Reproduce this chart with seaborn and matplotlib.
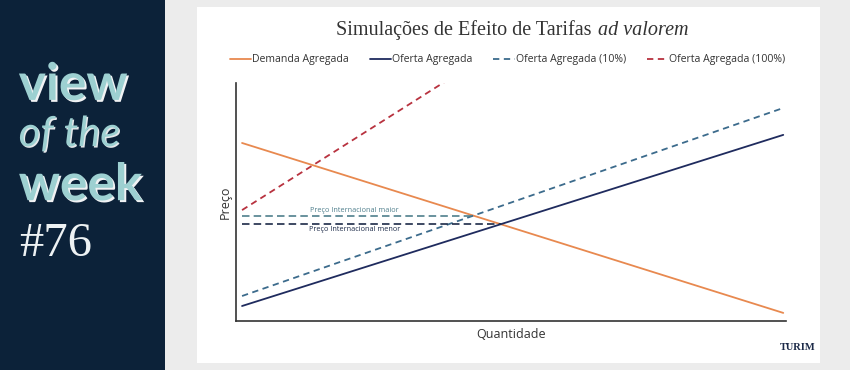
import matplotlib
matplotlib.use("Agg")
import matplotlib.pyplot as plt
import matplotlib.patheffects as pe
from matplotlib.patches import Rectangle
import numpy as np
import pandas as pd
import seaborn as sns

# data (quantity 0-100, price 0-100)
q_line = [1.1, 99.5]
demanda = [74.8, 3.4]
oferta = [6.3, 78.2]
oferta_10 = [10.5, 89.5]
q_100 = [1.1, 45.0]
oferta_100 = [46.6, 110.8]

q_maior = [1.1, 43.3]
preco_maior = [44.1, 44.1]
q_menor = [1.1, 48.2]
preco_menor = [40.8, 40.8]

SERIES = ["Demanda Agregada", "Oferta Agregada", "Oferta Agregada (10%)", "Oferta Agregada (100%)"]
COLORS = ["#e8894f", "#1f2b5e", "#3c6b8c", "#b8323f"]

NAVY = "#0c2239"
TEAL = "#9dd0d1"
DASH = (0, (3.5, 2.5))

sns.set_theme(style="white")
plt.rcParams["font.family"] = ["Open Sans", "DejaVu Sans"]

fig = plt.figure(figsize=(8.5, 3.7), dpi=100)
fig.patch.set_facecolor("#ececec")
fig.patches.append(Rectangle((0, 0), 165 / 850, 1, transform=fig.transFigure,
                             facecolor=NAVY, edgecolor="none", zorder=-10))
fig.patches.append(Rectangle((197 / 850, 7 / 370), 623 / 850, 356 / 370,
                             transform=fig.transFigure, facecolor="white",
                             edgecolor="none", zorder=-10))

# left panel
shadow = [pe.withSimplePatchShadow(offset=(1.4, -1.4), shadow_rgbFace="white", alpha=0.95)]
fig.text(0.022, 0.730, "view", family=["Lato", "DejaVu Sans"], weight="bold",
         size=37, color=TEAL, va="baseline", path_effects=shadow)
fig.text(0.022, 0.605, "of the", family=["Lato", "DejaVu Sans"], style="italic",
         weight="normal", size=30, color=TEAL, va="baseline",
         path_effects=[pe.withSimplePatchShadow(offset=(1.0, -1.0), shadow_rgbFace="white", alpha=0.9)])
fig.text(0.022, 0.459, "week", family=["Lato", "DejaVu Sans"], weight="bold",
         size=37, color=TEAL, va="baseline", path_effects=shadow)
fig.text(0.022, 0.308, "#76", family=["Liberation Serif", "DejaVu Serif"],
         size=35, color="#eef2f3", va="baseline")

# chart
ax = fig.add_axes([236 / 850, 49 / 370, 550 / 850, 238 / 370])
ax.set_facecolor("white")

LW = 1.3
sns.lineplot(x=q_line, y=demanda, ax=ax, color=COLORS[0], lw=LW, label=SERIES[0])
sns.lineplot(x=q_line, y=oferta, ax=ax, color=COLORS[1], lw=LW, label=SERIES[1])
sns.lineplot(x=q_line, y=oferta_10, ax=ax, color=COLORS[2], lw=LW,
             linestyle=DASH, label=SERIES[2])
sns.lineplot(x=q_100, y=oferta_100, ax=ax, color=COLORS[3], lw=LW,
             linestyle=DASH, label=SERIES[3])
sns.lineplot(x=q_maior, y=preco_maior, ax=ax, color="#4f7f8c", lw=1.2,
             linestyle=(0, (4.5, 2.5)), legend=False)
sns.lineplot(x=q_menor, y=preco_menor, ax=ax, color="#1c2a48", lw=1.2,
             linestyle=(0, (4.5, 2.5)), legend=False)

ax.text(21.6, 44.9, "Preço Internacional maior", color="#4f7f8c", size=5.2,
        ha="center", va="bottom")
ax.text(21.6, 40.0, "Preço Internacional menor", color="#1c2a48", size=5.2,
        ha="center", va="top")

ax.set_xlim(0, 100)
ax.set_ylim(0, 100)
ax.set_xticks([])
ax.set_yticks([])
for side in ("top", "right"):
    ax.spines[side].set_visible(False)
for side in ("left", "bottom"):
    ax.spines[side].set_color("#333333")
    ax.spines[side].set_linewidth(1.2)
ax.set_xlabel("Quantidade", size=9, color="#333333", labelpad=5)
ax.set_ylabel("Preço", size=9, color="#333333", labelpad=3)

handles, labels = ax.get_legend_handles_labels()
ax.get_legend().remove()
fig.legend(handles, labels, loc="center", bbox_to_anchor=(0.597, 0.838), ncol=4,
           frameon=False, fontsize=7.6, handlelength=2.0, handletextpad=0.1,
           columnspacing=2.0, labelcolor="#333333")

# title
fig.text(596 / 850, 0.905, "Simulações de Efeito de Tarifas ",
         family=["Liberation Serif", "DejaVu Serif"], size=14.5, color="#333333",
         ha="right", va="baseline")
fig.text(598 / 850, 0.905, "ad valorem", family=["Liberation Serif", "DejaVu Serif"],
         style="italic", size=14.5, color="#333333", ha="left", va="baseline")

# brand
fig.text(815 / 850, 1 - 347 / 370, "TURIM", family=["Liberation Serif", "DejaVu Serif"],
         weight="bold", size=7.5, color="#1c2a48", ha="right", va="center")

fig.savefig("out.png", dpi=100, facecolor=fig.get_facecolor())
